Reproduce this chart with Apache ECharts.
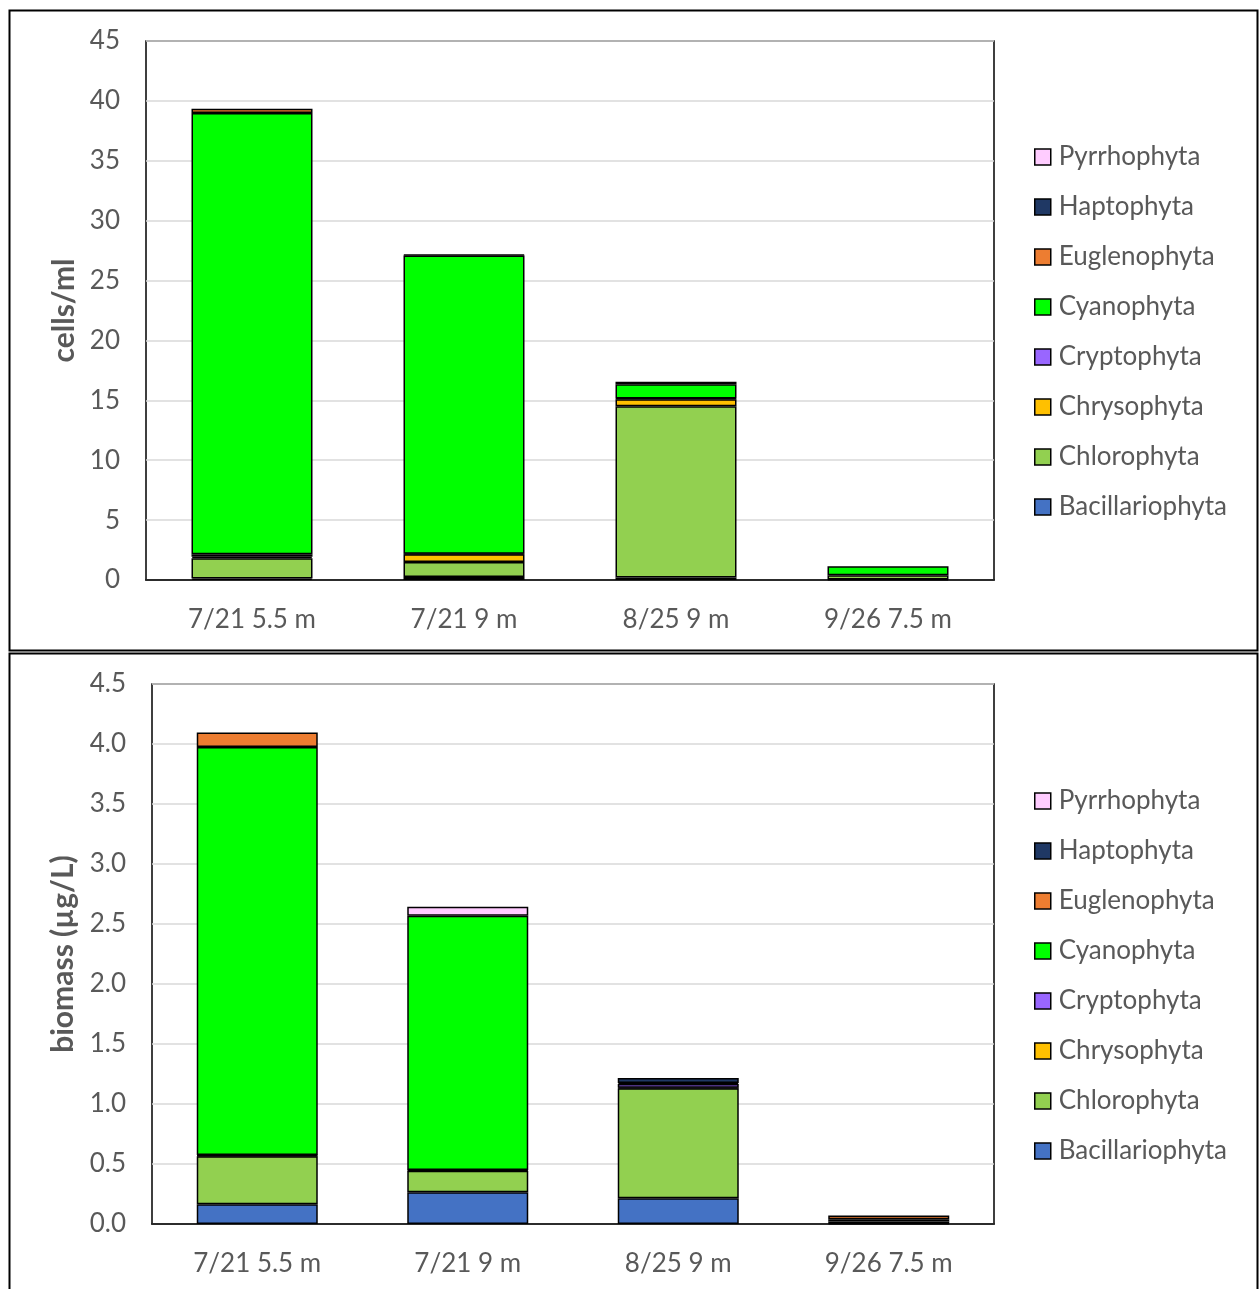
<!DOCTYPE html>
<html><head><meta charset="utf-8">
<script src="https://cdn.jsdelivr.net/npm/echarts@6/dist/echarts.min.js"></script>
<style>html,body{margin:0;padding:0;background:#fff}#c{width:1259px;height:1289px}</style>
</head><body><div id="c"></div>
<script>
const categories = ['7/21 5.5 m','7/21 9 m','8/25 9 m','9/26 7.5 m'];
const groups = ['Bacillariophyta','Chlorophyta','Chrysophyta','Cryptophyta','Cyanophyta','Euglenophyta','Haptophyta','Pyrrhophyta'];
const colors = ['#4472C4','#92D050','#FFC000','#9966FF','#00FF00','#ED7D31','#1F3864','#FFCCFF'];
// top chart: cells/ml
const cellsBac    = [0.12, 0.25, 0.2, 0.05];
const cellsChl    = [1.7, 1.25, 14.3, 0.35];
const cellsChrys  = [0.12, 0.65, 0.6, 0];
const cellsCrypto = [0.2, 0.05, 0.05, 0];
const cellsCyano  = [36.85, 24.9, 1.2, 0.75];
const cellsEugl   = [0.35, 0, 0, 0];
const cellsHapto  = [0, 0.05, 0.2, 0];
const cellsPyrr   = [0, 0, 0, 0];
// bottom chart: biomass (µg/L)
const bioBac    = [0.165, 0.264, 0.214, 0.005];
const bioChl    = [0.40, 0.18, 0.917, 0.015];
const bioChrys  = [0.005, 0, 0.005, 0];
const bioCrypto = [0.005, 0.005, 0.03, 0];
const bioCyano  = [3.40, 2.12, 0.01, 0.02];
const bioEugl   = [0.12, 0, 0, 0.03];
const bioHapto  = [0, 0, 0.04, 0];
const bioPyrr   = [0, 0.075, 0, 0];
const topTicks = {min:0, max:45, interval:5};
const botTicks = {min:0, max:4.5, interval:0.5};

const cellsData = [cellsBac,cellsChl,cellsChrys,cellsCrypto,cellsCyano,cellsEugl,cellsHapto,cellsPyrr];
const bioData = [bioBac,bioChl,bioChrys,bioCrypto,bioCyano,bioEugl,bioHapto,bioPyrr];

const FONT = 'Lato';
const GREY = '#595959';
const legendOrder = groups.slice().reverse();

function mkSeries(data, idx, stack) {
  return groups.map((g, i) => ({
    name: g, type: 'bar', stack: stack, xAxisIndex: idx, yAxisIndex: idx,
    barWidth: 121,
    itemStyle: {color: colors[i], borderColor: '#000', borderWidth: 1.5},
    data: data[i].map(v => v === 0 ? null : v)
  }));
}
function mkX(idx, gi) {
  return {type:'category', gridIndex: gi, data: categories,
    axisTick:{show:false}, axisLine:{show:true, lineStyle:{color:'#000', width:1.5}},
    axisLabel:{color:GREY, fontFamily:FONT, fontSize:26, margin:27}};
}
function mkY(gi, t, name, gap, dec) {
  return {type:'value', gridIndex: gi, min:t.min, max:t.max, interval:t.interval,
    name: name, nameLocation:'middle', nameGap: gap, nameRotate: 90,
    nameTextStyle:{color:GREY, fontFamily:FONT, fontSize:30, fontWeight:'bold'},
    axisLine:{show:false}, axisTick:{show:false},
    axisLabel:{color:GREY, fontFamily:FONT, fontSize:26, margin:26,
      formatter: v => v.toFixed(dec)},
    splitLine:{lineStyle:{color:'#d9d9d9', width:1.5}}};
}
function mkLegend(top) {
  return {orient:'vertical', left:1029, top: top, data: legendOrder,
    icon:'rect', itemWidth:16, itemHeight:16, itemGap:24,
    textStyle:{color:GREY, fontFamily:FONT, fontSize:26, lineHeight:26, padding:[0,0,0,3]},
    itemStyle:{borderColor:'#000', borderWidth:1.5}};
}
const chart = echarts.init(document.getElementById('c'), null, {renderer:'canvas'});
chart.setOption({
  animation:false,
  grid:[
    {left:146, top:41, width:848, height:539, show:true, borderColor:'#000', borderWidth:1.5, backgroundColor:'transparent'},
    {left:152, top:684, width:842, height:540, show:true, borderColor:'#000', borderWidth:1.5, backgroundColor:'transparent'}
  ],
  xAxis:[mkX(0,0), mkX(1,1)],
  yAxis:[mkY(0, topTicks, 'cells/ml', 64, 0), mkY(1, botTicks, 'biomass (µg/L)', 72, 1)],
  legend:[mkLegend(139), mkLegend(783)],
  series: mkSeries(cellsData, 0, 'a').concat(mkSeries(bioData, 1, 'b')),
  graphic:[
    {type:'rect', shape:{x:9.5, y:10.5, width:1248, height:640}, style:{fill:'none', stroke:'#000', lineWidth:2}, silent:true},
    {type:'rect', shape:{x:9.5, y:653.5, width:1248, height:700}, style:{fill:'none', stroke:'#000', lineWidth:2}, silent:true}
  ]
});
</script></body></html>
